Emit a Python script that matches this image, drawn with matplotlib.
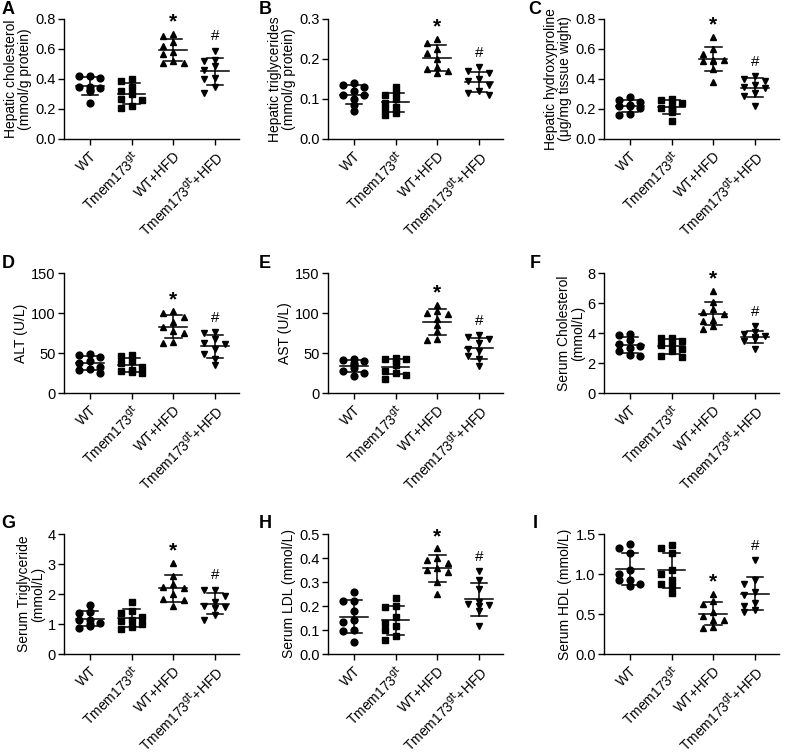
import numpy as np
import matplotlib
matplotlib.use("Agg")
import matplotlib.pyplot as plt

plt.rcParams['font.family'] = ['Liberation Sans', 'DejaVu Sans']

groups = ["WT", "Tmem173$^{\\mathrm{gt}}$", "WT+HFD", "Tmem173$^{\\mathrm{gt}}$+HFD"]
markers = ["o", "s", "^", "v"]

# values, one list per group
hep_chol = [[0.42, 0.42, 0.41, 0.35, 0.35, 0.34, 0.33, 0.32, 0.24],
            [0.40, 0.39, 0.35, 0.32, 0.30, 0.27, 0.26, 0.22, 0.21],
            [0.70, 0.69, 0.65, 0.62, 0.58, 0.57, 0.52, 0.51, 0.51],
            [0.59, 0.53, 0.52, 0.49, 0.46, 0.41, 0.40, 0.35, 0.31]]
hep_tg = [[0.14, 0.135, 0.13, 0.12, 0.11, 0.11, 0.10, 0.085, 0.07],
          [0.13, 0.115, 0.11, 0.10, 0.09, 0.08, 0.075, 0.065, 0.06],
          [0.25, 0.24, 0.225, 0.215, 0.20, 0.18, 0.175, 0.17, 0.165],
          [0.18, 0.17, 0.165, 0.15, 0.145, 0.135, 0.12, 0.115, 0.11]]
hep_hyp = [[0.28, 0.26, 0.25, 0.23, 0.22, 0.22, 0.21, 0.17, 0.16],
           [0.27, 0.26, 0.24, 0.23, 0.21, 0.20, 0.20, 0.18, 0.12],
           [0.68, 0.60, 0.57, 0.53, 0.53, 0.52, 0.52, 0.47, 0.38],
           [0.42, 0.40, 0.39, 0.36, 0.35, 0.34, 0.31, 0.29, 0.22]]
alt = [[49, 48, 45, 40, 37, 33, 30, 29, 25],
       [48, 46, 40, 38, 33, 29, 27, 26, 25],
       [102, 100, 95, 89, 82, 78, 75, 64, 63],
       [76, 75, 68, 63, 61, 55, 49, 43, 35]]
ast = [[42, 41, 40, 37, 35, 31, 27, 25, 21],
       [44, 43, 42, 40, 35, 28, 25, 23, 18],
       [110, 102, 100, 99, 93, 85, 77, 67, 66],
       [72, 70, 67, 62, 55, 53, 46, 43, 34]]
ser_chol = [[3.95, 3.85, 3.55, 3.3, 3.15, 3.0, 2.8, 2.55, 2.5],
            [3.7, 3.65, 3.45, 3.3, 3.2, 2.95, 2.8, 2.5, 2.4],
            [6.8, 6.1, 5.6, 5.4, 5.3, 4.9, 4.8, 4.5, 4.3],
            [4.45, 4.05, 3.95, 3.8, 3.75, 3.7, 3.6, 3.5, 2.95]]
ser_tg = [[1.63, 1.40, 1.38, 1.15, 1.12, 1.05, 1.0, 0.93, 0.88],
          [1.75, 1.42, 1.38, 1.25, 1.15, 1.1, 1.0, 0.9, 0.82],
          [3.05, 2.6, 2.35, 2.25, 2.2, 2.0, 1.85, 1.8, 1.6],
          [2.15, 2.12, 1.95, 1.75, 1.6, 1.58, 1.55, 1.3, 1.13]]
ser_ldl = [[0.26, 0.22, 0.22, 0.18, 0.14, 0.135, 0.10, 0.095, 0.05],
           [0.235, 0.20, 0.195, 0.155, 0.13, 0.115, 0.10, 0.075, 0.06],
           [0.44, 0.40, 0.39, 0.38, 0.36, 0.35, 0.34, 0.30, 0.25],
           [0.345, 0.31, 0.27, 0.215, 0.21, 0.205, 0.20, 0.18, 0.115]]
ser_hdl = [[1.37, 1.33, 1.26, 1.05, 1.0, 0.93, 0.92, 0.88, 0.85],
           [1.36, 1.32, 1.26, 1.05, 1.0, 0.93, 0.88, 0.85, 0.76],
           [0.75, 0.66, 0.62, 0.53, 0.48, 0.43, 0.42, 0.34, 0.32],
           [1.17, 0.93, 0.88, 0.77, 0.74, 0.64, 0.60, 0.55, 0.52]]

panel_data = [hep_chol, hep_tg, hep_hyp, alt, ast, ser_chol, ser_tg, ser_ldl, ser_hdl]
letters = ["A", "B", "C", "D", "E", "F", "G", "H", "I"]
ylabels = ["Hepatic cholesterol\n(mmol/g protein)",
           "Hepatic triglycerides\n(mmol/g protein)",
           "Hepatic hydroxyproline\n(\u03bcg/mg tissue wight)",
           "ALT (U/L)", "AST (U/L)",
           "Serum Cholesterol\n(mmol/L)",
           "Serum Triglyceride\n(mmol/L)",
           "Serum LDL (mmol/L)", "Serum HDL (mmol/L)"]
ymax = [0.8, 0.3, 0.8, 150, 150, 8, 4, 0.5, 1.5]
ystep = [0.2, 0.1, 0.2, 50, 50, 2, 1, 0.1, 0.5]


def swarm_offsets(vals, span):
    # place points left/centre/right so that they don't sit on each other
    order = np.argsort(vals)[::-1]
    cands = [0.0, -0.25, 0.25, -0.12, 0.12]
    placed = []
    offs = np.zeros(len(vals))
    for i in order:
        for c in cands:
            ok = True
            for (j, cj) in placed:
                if abs(cj - c) < 0.18 and abs(vals[j] - vals[i]) < 0.05 * span:
                    ok = False
                    break
            if ok:
                offs[i] = c
                placed.append((i, c))
                break
    return offs


fig = plt.figure(figsize=(7.85, 7.56), dpi=100)
W, H = 785.0, 756.0
lefts = [64, 328, 604]
tops = [19, 273, 534]
ax_w, ax_h = 175, 120
letter_x = [8, 265, 535]
letter_y = [10, 263, 523]

for k in range(9):
    r, c = divmod(k, 3)
    ax = fig.add_axes([lefts[c] / W, 1 - (tops[r] + ax_h) / H, ax_w / W, ax_h / H])
    data = panel_data[k]
    span = ymax[k]
    for g in range(4):
        v = np.array(data[g], dtype=float)
        offs = swarm_offsets(v, span)
        ax.plot(g + offs, v, linestyle="none", marker=markers[g], color="black",
                markersize=4.9 if markers[g] != "s" else 4.4)
        m = v.mean()
        sd = v.std(ddof=1)
        ax.plot([g - 0.33, g + 0.33], [m, m], color="black", lw=1.1)
        ax.plot([g, g], [m - sd, m + sd], color="black", lw=1.1)
        ax.plot([g - 0.2, g + 0.2], [m + sd, m + sd], color="black", lw=1.1)
        ax.plot([g - 0.2, g + 0.2], [m - sd, m - sd], color="black", lw=1.1)
    # significance marks
    ax.text(2, max(data[2]) + 0.1 * span, "*", ha="center", va="center",
            fontsize=15, fontweight="bold")
    ax.text(3, max(data[3]) + 0.12 * span, "#", ha="center", va="center", fontsize=11)

    ax.set_xlim(-0.62, 3.58)
    ax.set_ylim(0, ymax[k])
    ax.set_yticks(np.arange(0, ymax[k] + ystep[k] / 2, ystep[k]))
    ax.set_xticks(range(4))
    ax.set_xticklabels(groups, rotation=45, ha="right", rotation_mode="anchor", fontsize=10)
    ax.tick_params(axis="y", labelsize=10.5, width=1, length=4, pad=2)
    ax.tick_params(axis="x", width=1, length=4, pad=3)
    ax.spines["top"].set_visible(False)
    ax.spines["right"].set_visible(False)
    ax.spines["left"].set_linewidth(1)
    ax.spines["bottom"].set_linewidth(1)
    ax.set_ylabel(ylabels[k], fontsize=10, labelpad=2, linespacing=1.0)

    fig.text(letter_x[c] / W, 1 - letter_y[r] / H, letters[k],
             fontsize=13, fontweight="bold", ha="center", va="center")

fig.savefig("out.png", dpi=100)
